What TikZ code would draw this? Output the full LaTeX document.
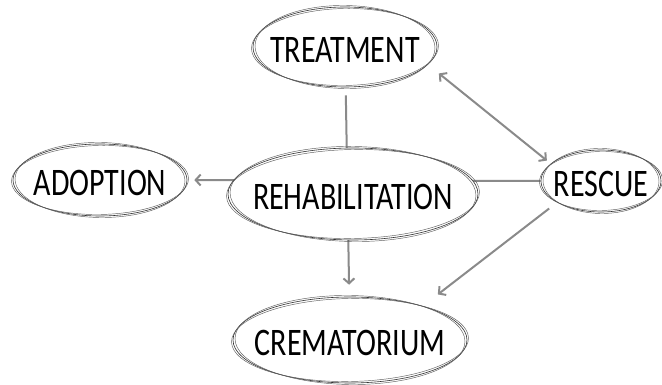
\documentclass[tikz,border=0pt]{standalone}
\usepackage{fontspec}
\setmainfont{Carlito}[FakeStretch=0.77]
\usepackage{tikz}
\usetikzlibrary{arrows.meta,shapes.geometric,backgrounds}
\definecolor{LinkGray}{HTML}{8A8A8A}
\definecolor{RimGray}{HTML}{5E5E5E}

\begin{document}
\begin{tikzpicture}[
	x=1pt, y=1pt,
	oval/.style={ellipse, draw=black!80, line width=0.6pt, fill=white, inner xsep=-50pt, inner ysep=-20pt,
		text height=32pt, text depth=0pt, text=black, font=\fontsize{39}{41}\selectfont},
	rim/.style={draw=RimGray, line width=0.45pt},
	arrow/.style={-{Straight Barb[length=5pt,width=11pt,line width=2pt]}, line width=2pt, draw=LinkGray}
]
\useasboundingbox (0,0) rectangle (662,385);

\node[oval, minimum width=184pt, minimum height=80pt] (treat) at (345,338) {TREATMENT};
\node[oval, minimum width=174pt, minimum height=72pt] (adopt) at (100,205) {ADOPTION};
\node[oval, minimum width=120pt, minimum height=62pt] (rescue) at (601,204) {RESCUE};
\node[oval, minimum width=250pt, minimum height=92pt] (rehab) at (353,191) {REHABILITATION};
\node[oval, minimum width=234pt, minimum height=86pt] (crem) at (350,45) {CREMATORIUM};

% sketchy double outlines
\foreach \n/\rx/\ry in {treat/92/40, adopt/87/36, rescue/60/31, rehab/125/46, crem/117/43} {
	\draw[rim] (\n.center) ellipse [x radius=\rx-2, y radius=\ry+1.5, rotate=-0.8];
	\draw[rim] (\n.center) ellipse [x radius=\rx+1.5, y radius=\ry-1.5, rotate=1];
}

\begin{pgfonlayer}{background}
\draw[arrow, {Straight Barb[length=5pt,width=11pt,line width=2pt]}-{Straight Barb[length=5pt,width=11pt,line width=2pt]}, shorten <=14pt, shorten >=5pt] (treat.-12) -- (rescue.161);
\draw[arrow, shorten >=7pt] (rescue.west) -- (adopt.east);
\draw[arrow, shorten <=8pt, shorten >=12pt] (treat) -- (crem);
\draw[arrow, shorten <=10pt, shorten >=19pt] (rescue.206) -- (crem.25);
\end{pgfonlayer}
\end{tikzpicture}
\end{document}
